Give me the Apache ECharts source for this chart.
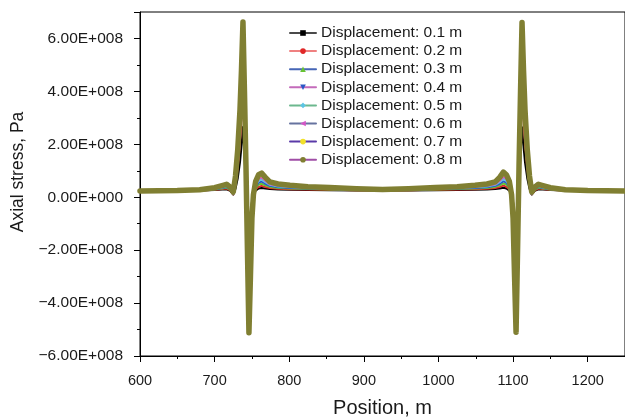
<!DOCTYPE html>
<html>
<head>
<meta charset="utf-8">
<script src="https://cdn.jsdelivr.net/npm/echarts@6/dist/echarts.min.js"></script>
<style>html,body{margin:0;padding:0;background:#fff}#c{width:625px;height:417px}</style>
</head>
<body>
<div id="c"></div>
<script>
// Position along the pipe, m
var positions = [600, 650, 680, 700, 710, 716, 721, 725, 728, 731, 734, 736, 738, 740, 742, 744, 746, 748, 750, 752, 755, 759, 763, 768, 774, 785, 801, 825, 854, 890, 925,
  960, 996, 1025, 1049, 1065, 1076, 1082, 1087, 1091, 1095, 1098, 1100, 1102, 1104, 1106, 1108, 1110, 1112, 1114, 1116, 1119, 1122, 1125, 1129, 1134, 1140, 1150, 1170, 1200, 1250];

// Axial stress in units of 1e7 Pa
var disp01 = [2.4, 2.4, 2.5, 2.7, 2.9, 3.0, 2.4, 1.0, 3.2, 7.2, 13.2, 19.2, 26.5, 16.0, 4.8, -4.4, -11.2, -6.6, -1.8, 0.8, 2.5, 3.3, 3.5, 3.3, 3.1, 2.9, 2.8, 2.7, 2.6, 2.5, 2.5,
  2.5, 2.6, 2.7, 2.8, 2.9, 3.1, 3.3, 3.6, 3.3, 2.5, 0.8, -1.8, -6.6, -11.1, -4.4, 4.8, 16.0, 26.4, 19.2, 13.2, 7.2, 3.2, 1.0, 2.4, 3.0, 2.9, 2.7, 2.5, 2.4, 2.4];
var disp02 = [2.4, 2.4, 2.5, 2.8, 3.1, 3.3, 2.6, 1.1, 4.9, 11.1, 20.5, 29.7, 41.0, 24.8, 7.4, -9.0, -23.0, -13.5, -3.6, 0.8, 3.0, 4.0, 4.3, 3.9, 3.5, 3.2, 3.0, 2.9, 2.8, 2.6, 2.5,
  2.6, 2.8, 2.9, 3.0, 3.2, 3.5, 3.9, 4.4, 4.0, 3.0, 0.8, -3.6, -13.5, -22.8, -9.0, 7.4, 24.8, 40.8, 29.7, 20.5, 11.1, 4.9, 1.1, 2.6, 3.3, 3.1, 2.8, 2.5, 2.4, 2.4];
var disp03 = [2.4, 2.4, 2.55, 2.9, 3.3, 3.6, 2.8, 1.3, 6.0, 13.5, 24.9, 36.2, 50.0, 30.2, 9.1, -12.5, -32.0, -18.8, -5.0, 0.9, 3.5, 4.8, 5.1, 4.5, 3.9, 3.5, 3.3, 3.1, 2.9, 2.7, 2.6,
  2.7, 2.9, 3.1, 3.3, 3.5, 3.9, 4.5, 5.2, 4.8, 3.5, 0.9, -5.0, -18.8, -31.8, -12.5, 9.1, 30.2, 49.8, 36.2, 24.9, 13.5, 6.0, 1.3, 2.8, 3.6, 3.3, 2.9, 2.55, 2.4, 2.4];
var disp04 = [2.4, 2.45, 2.6, 3.0, 3.5, 3.9, 3.0, 1.4, 6.7, 15.0, 27.7, 40.2, 55.5, 33.5, 10.1, -14.8, -38.0, -22.3, -5.9, 0.9, 4.0, 5.5, 5.9, 5.1, 4.3, 3.8, 3.5, 3.3, 3.1, 2.8, 2.6,
  2.8, 3.1, 3.3, 3.5, 3.8, 4.3, 5.1, 6.0, 5.5, 4.0, 0.9, -5.9, -22.3, -37.8, -14.8, 10.1, 33.5, 55.3, 40.2, 27.7, 15.0, 6.7, 1.4, 3.0, 3.9, 3.5, 3.0, 2.6, 2.45, 2.4];
var disp05 = [2.4, 2.45, 2.65, 3.2, 3.7, 4.2, 3.2, 1.6, 7.2, 16.2, 29.8, 43.1, 59.5, 36.0, 10.8, -16.8, -43.0, -25.2, -6.7, 1.0, 4.5, 6.3, 6.7, 5.7, 4.7, 4.1, 3.8, 3.5, 3.2, 2.9, 2.7,
  2.9, 3.2, 3.5, 3.8, 4.1, 4.7, 5.7, 6.9, 6.3, 4.5, 1.0, -6.7, -25.2, -42.8, -16.8, 10.8, 36.0, 59.3, 43.1, 29.8, 16.2, 7.2, 1.6, 3.2, 4.2, 3.7, 3.2, 2.65, 2.45, 2.4];
var disp06 = [2.4, 2.5, 2.7, 3.3, 3.9, 4.5, 3.4, 1.7, 7.5, 17.0, 31.2, 45.3, 62.5, 37.8, 11.3, -18.2, -46.5, -27.2, -7.3, 1.0, 5.0, 7.0, 7.5, 6.3, 5.0, 4.4, 4.0, 3.7, 3.4, 3.0, 2.7,
  3.0, 3.4, 3.7, 4.0, 4.4, 5.0, 6.3, 7.8, 7.0, 5.0, 1.0, -7.3, -27.2, -46.3, -18.2, 11.3, 37.8, 62.3, 45.3, 31.2, 17.0, 7.5, 1.7, 3.4, 4.5, 3.9, 3.3, 2.7, 2.5, 2.4];
var disp07 = [2.4, 2.5, 2.75, 3.45, 4.1, 4.7, 3.6, 1.85, 7.8, 17.5, 32.2, 46.7, 64.5, 39.0, 11.7, -19.1, -49.0, -28.7, -7.7, 1.0, 5.5, 7.8, 8.3, 6.9, 5.4, 4.7, 4.3, 3.9, 3.5, 3.1, 2.8,
  3.1, 3.5, 3.9, 4.3, 4.7, 5.4, 6.9, 8.7, 7.8, 5.5, 1.0, -7.7, -28.7, -48.8, -19.1, 11.7, 39.0, 64.3, 46.7, 32.2, 17.5, 7.8, 1.85, 3.6, 4.7, 4.1, 3.45, 2.75, 2.5, 2.4];
var disp08 = [2.4, 2.5, 2.8, 3.6, 4.4, 4.9, 3.8, 2.0, 8.0, 18.0, 33.0, 48.0, 66.2, 40.0, 12.0, -20.0, -51.2, -30.0, -8.0, 1.0, 6.0, 8.5, 9.1, 7.5, 5.8, 5.0, 4.5, 4.0, 3.7, 3.2, 2.9,
  3.2, 3.7, 4.0, 4.5, 5.0, 5.8, 7.5, 9.5, 8.5, 6.0, 1.0, -8.0, -30.0, -51.0, -20.0, 12.0, 40.0, 66.0, 48.0, 33.0, 18.0, 8.0, 2.0, 3.8, 4.9, 4.4, 3.6, 2.8, 2.5, 2.4];

var seriesNames = ['Displacement: 0.1 m', 'Displacement: 0.2 m', 'Displacement: 0.3 m', 'Displacement: 0.4 m',
  'Displacement: 0.5 m', 'Displacement: 0.6 m', 'Displacement: 0.7 m', 'Displacement: 0.8 m'];
var seriesValues = [disp01, disp02, disp03, disp04, disp05, disp06, disp07, disp08];
var yTickValues = [-6e8, -4e8, -2e8, 0, 2e8, 4e8, 6e8];
var xTickValues = [600, 700, 800, 900, 1000, 1100, 1200];

var markerColors = ['#000000', '#e02828', '#66c233', '#2a56c6', '#5cc4e4', '#d457c6', '#f2e12a', '#807f32'];
var lineColors = ['#4a4a4a', '#ef8080', '#4666b6', '#c46bbb', '#6cb88e', '#66739f', '#5a3aa8', '#a04ea6'];
var symbols = ['rect', 'circle', 'triangle', 'triangle', 'diamond', 'triangle', 'circle', 'circle'];
var symbolRot = [0, 0, 0, 180, 0, 90, 0, 0];
var plotWidths = [2, 2, 2, 2, 2.2, 2.4, 2.6, 5.5];

var FONT = '"Liberation Sans", Arial, sans-serif';

function fmtSci(v) {
  if (yTickValues.indexOf(v) < 0) return '';
  if (v === 0) return '0.00E+000';
  var s = v < 0 ? '\u2212' : '';
  var a = Math.abs(v);
  var e = Math.floor(Math.log10(a));
  var m = a / Math.pow(10, e);
  var es = String(e);
  while (es.length < 3) es = '0' + es;
  return s + m.toFixed(2) + 'E+' + es;
}

var series = seriesNames.map(function (n, i) {
  return {
    name: n,
    type: 'line',
    data: positions.map(function (x, j) { return [x, seriesValues[i][j] * 1e7]; }),
    showSymbol: false,
    symbol: symbols[i],
    symbolRotate: symbolRot[i],
    symbolSize: 5,
    itemStyle: { color: markerColors[i] },
    lineStyle: { color: markerColors[i], width: plotWidths[i], join: 'round', cap: 'round' },
    z: 2 + i,
    animation: false
  };
});

var chart = echarts.init(document.getElementById('c'), null, { renderer: 'canvas' });
chart.setOption({
  animation: false,
  backgroundColor: '#ffffff',
  textStyle: { fontFamily: FONT },
  grid: { left: 140, right: 0, top: 12, bottom: 61, show: true, borderColor: '#000', borderWidth: 1, backgroundColor: 'transparent', containLabel: false, outerBoundsMode: 'none' },
  legend: {
    orient: 'vertical',
    left: 289,
    top: 25,
    padding: 0,
    itemWidth: 26,
    itemHeight: 7,
    itemGap: 2.1,
    textStyle: { fontFamily: FONT, fontSize: 15.5, color: '#1a1a1a', lineHeight: 16 },
    data: seriesNames.map(function (n, i) {
      return {
        name: n,
        itemStyle: { color: markerColors[i] },
        lineStyle: { color: lineColors[i], width: 2 }
      };
    })
  },
  xAxis: {
    type: 'value',
    min: 600,
    max: 1250,
    interval: 100,
    name: 'Position, m',
    nameLocation: 'middle',
    nameGap: 42,
    nameTextStyle: { fontFamily: FONT, fontSize: 20, color: '#1a1a1a' },
    axisLine: { show: true, onZero: false, lineStyle: { color: '#000', width: 1 } },
    axisTick: { show: true, inside: false, length: 6, lineStyle: { color: '#000' } },
    minorTick: { show: true, splitNumber: 2, length: 3, lineStyle: { color: '#000' } },
    splitLine: { show: false },
    axisLabel: {
      showMaxLabel: false,
      margin: 17,
      fontFamily: FONT, fontSize: 14.5, color: '#1a1a1a',
      formatter: function (v) { return xTickValues.indexOf(v) >= 0 ? String(v) : ''; }
    }
  },
  yAxis: {
    type: 'value',
    min: -6e8,
    max: 7e8,
    interval: 2e8,
    name: 'Axial stress, Pa',
    nameLocation: 'middle',
    nameGap: 107,
    nameTextStyle: { fontFamily: FONT, fontSize: 17.5, color: '#1a1a1a', padding: [0, 0, 0, 24] },
    axisLine: { show: true, onZero: false, lineStyle: { color: '#000', width: 1 } },
    axisTick: { show: true, inside: false, length: 6, lineStyle: { color: '#000' } },
    minorTick: { show: true, splitNumber: 2, length: 3, lineStyle: { color: '#000' } },
    splitLine: { show: false },
    axisLabel: {
      showMaxLabel: false,
      margin: 17,
      fontFamily: FONT, fontSize: 15.5, color: '#1a1a1a',
      formatter: fmtSci
    }
  },
  series: series
});
</script>
</body>
</html>
